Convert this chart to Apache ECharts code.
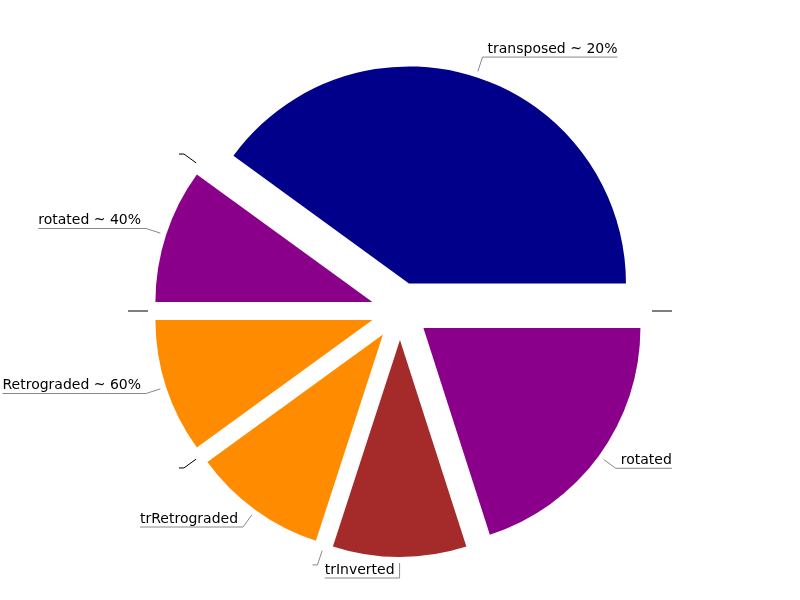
<!DOCTYPE html>
<html>
<head>
<meta charset="utf-8">
<script src="https://cdn.jsdelivr.net/npm/echarts@6/dist/echarts.min.js"></script>
<style>
html, body { margin: 0; padding: 0; background: #fff; }
#main { width: 800px; height: 600px; }
</style>
</head>
<body>
<div id="main"></div>
<script>
// slices clockwise from 9 o'clock, zero slices only show a label line
var sliceNames = ['z0', 'rotated ~ 40%', 'z1', 'transposed ~ 20%', 'z2', 'rotated', 'trInverted', 'z3', 'trRetrograded', 'z4', 'Retrograded ~ 60%'];
var sliceLabels = ['', 'rotated ~ 40%', '', 'transposed ~ 20%', '', 'rotated', 'trInverted', '', 'trRetrograded', '', 'Retrograded ~ 60%'];
var sliceValues = [0, 10, 0, 40, 0, 20.05, 9.95, 0, 10, 0, 10];
var sliceColors = ['#000', '#8b008b', '#000', '#00008b', '#000', '#8b008b', '#a52a2a', '#888', '#ff8c00', '#000', '#ff8c00'];
var lineColors = ['#000', '#888', '#000', '#888', '#000', '#888', '#888', '#888', '#888', '#000', '#888'];

var chart = echarts.init(document.getElementById('main'));

var data = [];
for (var i = 0; i < sliceValues.length; i++) {
    data.push({
        name: sliceNames[i],
        value: sliceValues[i],
        selected: true,
        itemStyle: { color: sliceColors[i] },
        labelLine: { lineStyle: { color: lineColors[i] } }
    });
}

var option = {
    animation: false,
    series: [
        {
            type: 'pie',
            center: [400, 311],
            radius: 217,
            startAngle: 180,
            selectedMode: 'multiple',
            selectedOffset: 29,
            avoidLabelOverlap: false,
            label: {
                color: '#000',
                fontSize: 14,
                fontFamily: 'DejaVu Sans',
                formatter: function (p) { return sliceLabels[p.dataIndex]; }
            },
            labelLine: {
                length: 21,
                length2: 0,
                lineStyle: { width: 1 }
            },
            labelLayout: function (params) {
                var isLeft = params.labelRect.x < chart.getWidth() / 2;
                var points = params.labelLinePoints;
                // line starts a little off the slice edge
                var ddx = points[1][0] - points[0][0];
                var ddy = points[1][1] - points[0][1];
                var len = Math.sqrt(ddx * ddx + ddy * ddy) || 1;
                points[0][0] += ddx / len * 6;
                points[0][1] += ddy / len * 6;
                points[2][0] = isLeft ? params.labelRect.x : params.labelRect.x + params.labelRect.width;
                return { labelLinePoints: points, dy: -8 };
            },
            data: data
        }
    ]
};
chart.setOption(option);
</script>
</body>
</html>
